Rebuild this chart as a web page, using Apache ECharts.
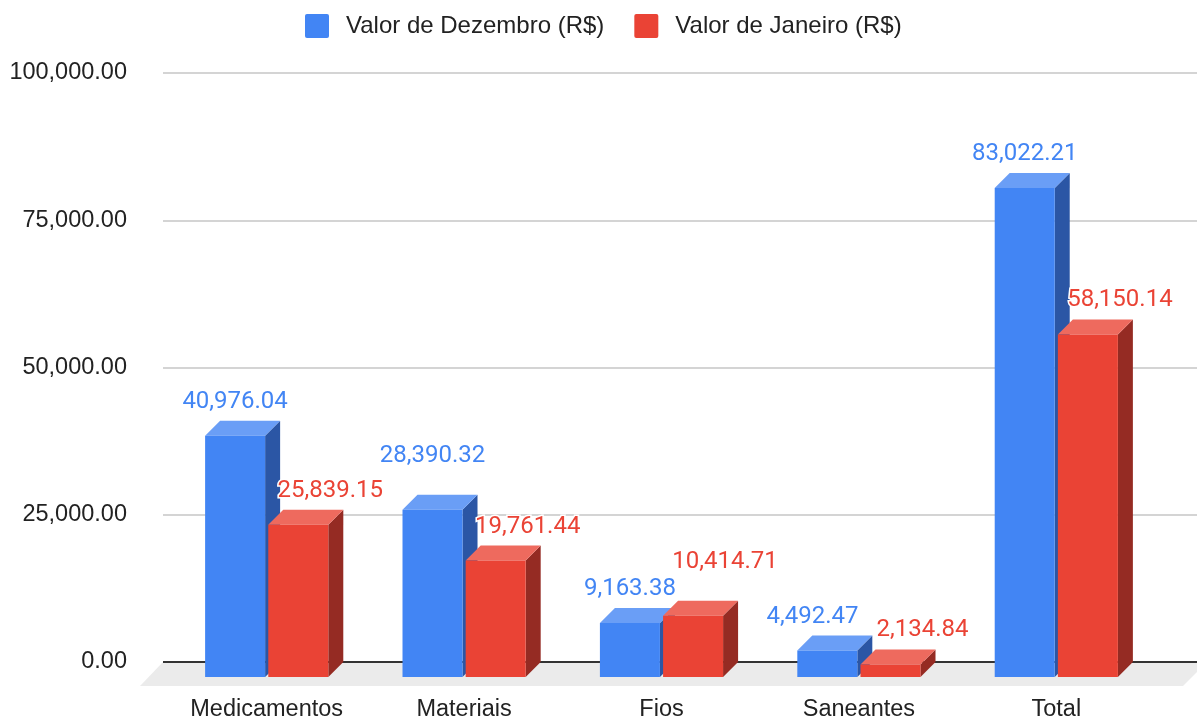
<!DOCTYPE html>
<html>
<head>
<meta charset="utf-8">
<script src="https://cdn.jsdelivr.net/npm/echarts@6/dist/echarts.min.js"></script>
<style>
  html, body { margin: 0; padding: 0; background: #ffffff; }
  #chart { width: 1197px; height: 725px; }
</style>
</head>
<body>
<div id="chart"></div>
<script>
// ---- data ----
const categories = ['Medicamentos', 'Materiais', 'Fios', 'Saneantes', 'Total'];
const seriesNames = ['Valor de Dezembro (R$)', 'Valor de Janeiro (R$)'];
const dezembro = [40976.04, 28390.32, 9163.38, 4492.47, 83022.21];
const janeiro = [25839.15, 19761.44, 10414.71, 2134.84, 58150.14];
const yTicks = [0, 25000, 50000, 75000, 100000];

// ---- look ----
const DEPTH = 15;            // 3D extrusion of bars (px, right and up)
const FLOOR_DEPTH = 24;      // how far the floor reaches toward the viewer
const BAR_FRAC = 0.304;      // bar width as a share of a category band
const OFFSET_FRAC = 0.16;    // bar centre offset from the band centre
const palettes = [
  { front: '#4285f4', top: '#6a9ef6', side: '#2b56a5', label: '#4285f4' },
  { front: '#ea4335', top: '#ee6a5e', side: '#952b23', label: '#ea4335' }
];
const LABEL_FONT_SIZE = 24;
const LABEL_FONT = 'Roboto';
const LABEL_GAP = 19;        // label centre above the back edge of a bar's top
const LABEL_H = 20;
const LABEL_PAD = 3;
const RED_SHIFT = 32;        // second series labels sit a little to the right
const LIFT = 20;
const SIDE_GAP = 18;
const AXIS_FONT = 'Liberation Sans';
const AXIS_FONT_SIZE = 23.5;

const numFmt = new Intl.NumberFormat('en-US', { minimumFractionDigits: 2, maximumFractionDigits: 2 });
const fmt = v => numFmt.format(v);

const measureCtx = document.createElement('canvas').getContext('2d');
function textWidth(t) {
  measureCtx.font = LABEL_FONT_SIZE + 'px ' + LABEL_FONT;
  return measureCtx.measureText(t).width;
}

const valueSets = [dezembro, janeiro];

function boxesOverlap(a, b) {
  const ax0 = a.cx - a.w / 2 - LABEL_PAD, ax1 = a.cx + a.w / 2 + LABEL_PAD;
  const bx0 = b.cx - b.w / 2 - LABEL_PAD, bx1 = b.cx + b.w / 2 + LABEL_PAD;
  const xo = Math.min(ax1, bx1) - Math.max(ax0, bx0);
  const yo = LABEL_H - Math.abs(a.cy - b.cy);
  return xo > 0 && yo > 0;
}

// Greedy value-label placement: keep labels above their bars and out of each other's way.
function layoutLabels(api) {
  const band = api.size([1, 0])[0];
  const placed = [];
  categories.forEach((c, i) => {
    valueSets.forEach((arr, s) => {
      const p = api.coord([i, arr[i]]);
      const text = fmt(arr[i]);
      const box = {
        cx: p[0] + (s === 0 ? -1 : 1) * band * OFFSET_FRAC + (s === 1 ? RED_SHIFT : 0),
        cy: p[1] - DEPTH - LABEL_GAP,
        w: textWidth(text), text: text, cat: i, s: s
      };
      let guard = 0, moved = true;
      while (moved && guard++ < 10) {
        moved = false;
        for (const q of placed) {
          if (!boxesOverlap(box, q)) continue;
          if (q.cat === box.cat && Math.abs(q.cy - box.cy) >= 10) {
            q.cx = box.cx - box.w / 2 - SIDE_GAP - q.w / 2;
          } else {
            box.cy -= LIFT;
            moved = true;
          }
        }
      }
      placed.push(box);
    });
  });
  return placed;
}

function barRenderer(s) {
  return function (params, api) {
    const i = api.value(0);
    const v = api.value(1);
    const band = api.size([1, 0])[0];
    const w = band * BAR_FRAC;
    const base = api.coord([i, 0]);
    const center = base[0] + (s === 0 ? -1 : 1) * band * OFFSET_FRAC;
    const x0 = center - w / 2, x1 = center + w / 2;
    const yb = base[1];
    const yt = api.coord([i, v])[1];
    const pal = palettes[s];
    return {
      type: 'group',
      children: [
        { type: 'polygon', shape: { points: [[x1, yt], [x1 + DEPTH, yt - DEPTH], [x1 + DEPTH, yb - DEPTH], [x1, yb]] },
          style: { fill: pal.side } },
        { type: 'polygon', shape: { points: [[x0, yt], [x0 + DEPTH, yt - DEPTH], [x1 + DEPTH, yt - DEPTH], [x1, yt]] },
          style: { fill: pal.top } },
        { type: 'rect', shape: { x: x0, y: yt, width: w, height: yb - yt }, style: { fill: pal.front } }
      ]
    };
  };
}

function floorRenderer(params, api) {
  const cs = params.coordSys;
  const yb = cs.y + cs.height;
  const xl = cs.x, xr = cs.x + cs.width;
  return {
    type: 'group',
    children: [
      { type: 'polygon',
        shape: { points: [[xl, yb], [xr + 10, yb], [xr + 10 - FLOOR_DEPTH, yb + FLOOR_DEPTH], [xl - FLOOR_DEPTH + 1, yb + FLOOR_DEPTH]] },
        style: { fill: '#ebebeb' } },
      { type: 'line', shape: { x1: xl, y1: yb, x2: xr, y2: yb }, style: { stroke: '#333333', lineWidth: 2 } }
    ]
  };
}

function labelRenderer(params, api) {
  const boxes = layoutLabels(api);
  const b = boxes[params.dataIndex];
  return {
    type: 'text',
    z2: 100,
    style: {
      text: b.text, x: b.cx, y: b.cy, align: 'center', verticalAlign: 'middle',
      fill: palettes[b.s].label, fontSize: LABEL_FONT_SIZE, fontFamily: LABEL_FONT,
      stroke: '#ffffff', lineWidth: 3
    }
  };
}

const labelData = [];
categories.forEach((c, i) => valueSets.forEach((arr, s) => labelData.push([i, arr[i], s])));

const chart = echarts.init(document.getElementById('chart'), null, { renderer: 'canvas' });
chart.setOption({
  animation: false,
  backgroundColor: '#ffffff',
  legend: {
    data: seriesNames,
    top: 9,
    left: 300,
    itemWidth: 24,
    itemHeight: 24,
    itemGap: 30,
    icon: 'path://M2,0 H22 A2,2 0 0 1 24,2 V22 A2,2 0 0 1 22,24 H2 A2,2 0 0 1 0,22 V2 A2,2 0 0 1 2,0 Z',
    textStyle: { fontSize: 24, fontFamily: AXIS_FONT, color: '#222222', padding: [0, 0, 0, 12] }
  },
  grid: [
    // back wall: gridlines and value axis
    { left: 163, right: 0, top: 73, bottom: 63 },
    // front plane: bars and category axis
    { left: 168, right: 42, top: 88, bottom: 48 }
  ],
  xAxis: [
    { gridIndex: 0, type: 'category', data: categories, show: false },
    { gridIndex: 1, type: 'category', data: categories,
      axisLine: { show: false }, axisTick: { show: false },
      axisLabel: { interval: 0, margin: 21, fontSize: AXIS_FONT_SIZE, fontFamily: AXIS_FONT, color: '#222222' } }
  ],
  yAxis: [
    { gridIndex: 0, type: 'value', min: yTicks[0], max: yTicks[yTicks.length - 1], interval: yTicks[1] - yTicks[0],
      axisLine: { show: false }, axisTick: { show: false },
      axisLabel: { margin: 36, fontSize: AXIS_FONT_SIZE, fontFamily: AXIS_FONT, color: '#222222', formatter: v => fmt(v) },
      splitLine: { lineStyle: { color: '#d4d4d4', width: 2 } } },
    { gridIndex: 1, type: 'value', min: yTicks[0], max: yTicks[yTicks.length - 1], interval: yTicks[1] - yTicks[0], show: false }
  ],
  series: [
    { type: 'custom', name: 'floor', xAxisIndex: 0, yAxisIndex: 0, z: 1, silent: true,
      data: [[0, 0]], renderItem: floorRenderer },
    { type: 'custom', name: seriesNames[0], xAxisIndex: 1, yAxisIndex: 1, z: 2,
      itemStyle: { color: palettes[0].front },
      data: dezembro.map((v, i) => [i, v]), encode: { x: 0, y: 1 }, renderItem: barRenderer(0) },
    { type: 'custom', name: seriesNames[1], xAxisIndex: 1, yAxisIndex: 1, z: 3,
      itemStyle: { color: palettes[1].front },
      data: janeiro.map((v, i) => [i, v]), encode: { x: 0, y: 1 }, renderItem: barRenderer(1) },
    { type: 'custom', name: 'labels', xAxisIndex: 1, yAxisIndex: 1, z: 10, silent: true,
      data: labelData, encode: { x: 0, y: 1 }, renderItem: labelRenderer }
  ]
});
</script>
</body>
</html>
